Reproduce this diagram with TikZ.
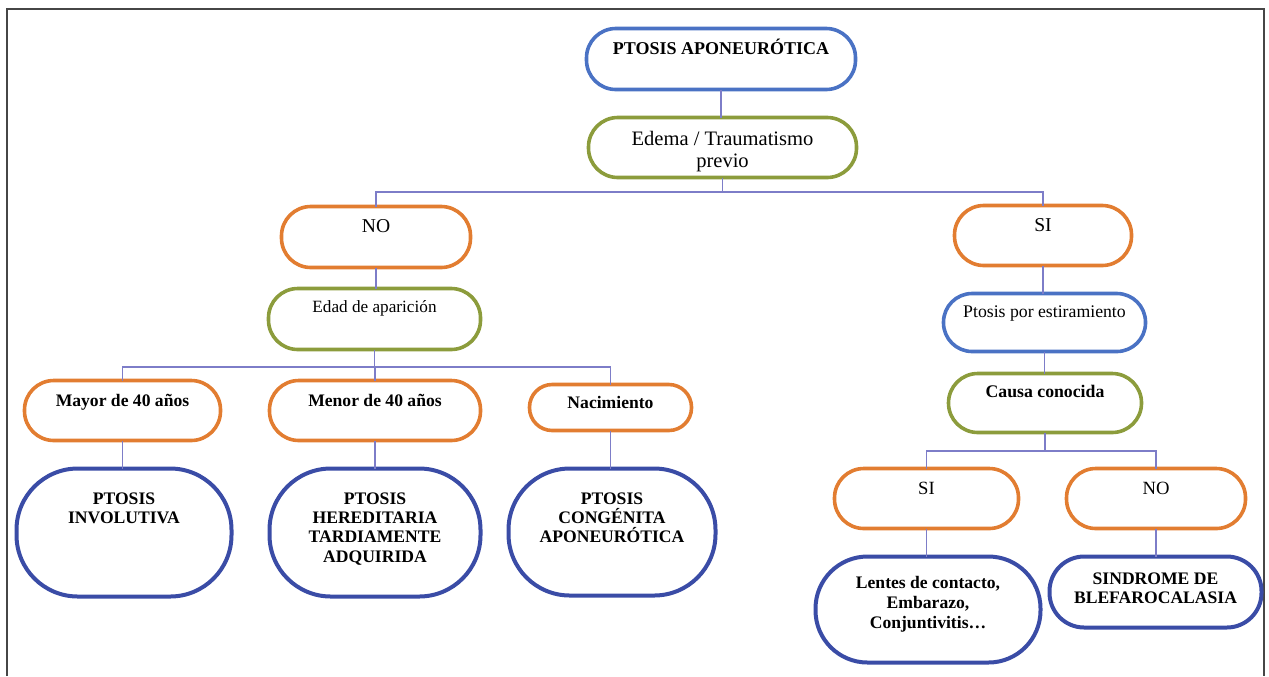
\documentclass[tikz,border=0pt]{standalone}
\usepackage{fontspec}
\setmainfont{Liberation Serif}
\newlength{\upx}\setlength{\upx}{0.75pt}
\newcommand{\mybt}[6]{\parbox[c][#2\upx][t]{#1\upx}{\centering\fontsize{#4}{#5}\selectfont\rule{0pt}{#3\upx}#6\par}}
\definecolor{ltblue}{RGB}{74,114,196}
\definecolor{dkblue}{RGB}{58,76,166}
\definecolor{orng}{RGB}{226,125,49}
\definecolor{olive}{RGB}{140,156,60}
\definecolor{conncol}{RGB}{125,125,200}
\definecolor{framecol}{RGB}{70,70,70}
\tikzset{
  bx/.style={draw, line width=2.7pt, inner sep=0pt, outer sep=0pt, rounded corners=22pt},
  bxl/.style={bx, draw=ltblue},
  bxo/.style={bx, draw=orng},
  bxg/.style={bx, draw=olive},
  bxd/.style={bx, draw=dkblue, line width=3pt},
  conn/.style={draw=conncol, line width=0.9pt},
}
\begin{document}
\begin{tikzpicture}[x=0.75pt,y=-0.75pt]
\useasboundingbox (0,0) rectangle (1269,676);
\draw[framecol, line width=1.3pt] (7,676) -- (7,9) -- (1264,9) -- (1264,676);

% nodes
\node[bxl] (top) at (721,59) {\mybt{269}{61}{25.5}{13.5pt}{16pt}{\bfseries PTOSIS APONEURÓTICA}};
\node[bxg] (ed) at (722.5,147.5) {\mybt{268}{60}{27.5}{15.4pt}{16.5pt}{Edema / Traumatismo\\previo}};
\node[bxo] (no1) at (376,237) {\mybt{189}{61}{25.5}{14.7pt}{17pt}{NO}};
\node[bxg] (edad) at (374.5,319) {\mybt{212}{61}{23.5}{12.9pt}{15pt}{Edad de aparición}};
\node[bxo] (si1) at (1043,235.5) {\mybt{177}{60}{25.5}{14.7pt}{17pt}{SI}};
\node[bxl, rounded corners=21.5pt] (est) at (1044.5,322.5) {\mybt{202}{58}{23.5}{13.3pt}{15pt}{Ptosis por estiramiento}};
\node[bxg] (causa) at (1045,403) {\mybt{193}{59}{23.5}{13.3pt}{15pt}{\bfseries Causa conocida}};
\node[bxo] (si2) at (926.5,498.5) {\mybt{184}{60}{25.5}{14pt}{16pt}{SI}};
\node[bxo] (no2) at (1156,498.5) {\mybt{179}{60}{25.5}{14pt}{16pt}{NO}};
\node[bxd, rounded corners=39pt] (lentes) at (928,609.5) {\mybt{225}{106}{31.5}{13.2pt}{15.2pt}{\bfseries Lentes de contacto,\\Embarazo,\\Conjuntivitis…}};
\node[bxd, rounded corners=26pt] (sind) at (1155.5,592) {\mybt{212}{71}{27.5}{13.2pt}{14.5pt}{\bfseries SINDROME DE\\BLEFAROCALASIA}};
\node[bxo] (mayor) at (122.5,410.5) {\mybt{196}{60}{25.5}{13.2pt}{15pt}{\bfseries Mayor de 40 años}};
\node[bxo] (menor) at (375,410.5) {\mybt{211}{60}{25.5}{13.2pt}{15pt}{\bfseries Menor de 40 años}};
\node[bxo, rounded corners=17pt] (nac) at (610.5,407.5) {\mybt{162}{46}{23.5}{13.2pt}{15pt}{\bfseries Nacimiento}};
\node[bxd, rounded corners=46pt] (invol) at (124,532.5) {\mybt{215}{128}{35.5}{13.2pt}{14.6pt}{\bfseries PTOSIS\\INVOLUTIVA}};
\node[bxd, rounded corners=46pt] (hered) at (375,532.5) {\mybt{211}{128}{35.5}{13.2pt}{14.6pt}{\bfseries PTOSIS\\HEREDITARIA\\TARDIAMENTE\\ADQUIRIDA}};
\node[bxd, rounded corners=46pt] (cong) at (612,532) {\mybt{207}{127}{35.5}{13.2pt}{14.6pt}{\bfseries PTOSIS\\CONGÉNITA\\APONEURÓTICA}};

% bus coordinates
\coordinate (b1) at (722,192);
\coordinate (b2) at (376,367);
\coordinate (b3) at (1045,451);

% connectors
\draw[conn] (top.south) -- (top.south |- ed.north);
\draw[conn] (ed.south) -- (ed.south |- b1);
\draw[conn] (no1.north) |- (b1) -| (si1.north);
\draw[conn] (no1.south) -- (no1.south |- edad.north);
\draw[conn] (edad.south) -- (edad.south |- b2);
\draw[conn] (mayor.north) |- (b2) -| (nac.north);
\draw[conn] (menor.north) -- (menor.north |- b2);
\draw[conn] (mayor.south) -- (mayor.south |- invol.north);
\draw[conn] (menor.south) -- (menor.south |- hered.north);
\draw[conn] (nac.south) -- (nac.south |- cong.north);
\draw[conn] (si1.south) -- (si1.south |- est.north);
\draw[conn] (est.south) -- (est.south |- causa.north);
\draw[conn] (causa.south) -- (causa.south |- b3);
\draw[conn] (si2.north) |- (b3) -| (no2.north);
\draw[conn] (si2.south) -- (si2.south |- lentes.north);
\draw[conn] (no2.south) -- (no2.south |- sind.north);
\end{tikzpicture}
\end{document}
